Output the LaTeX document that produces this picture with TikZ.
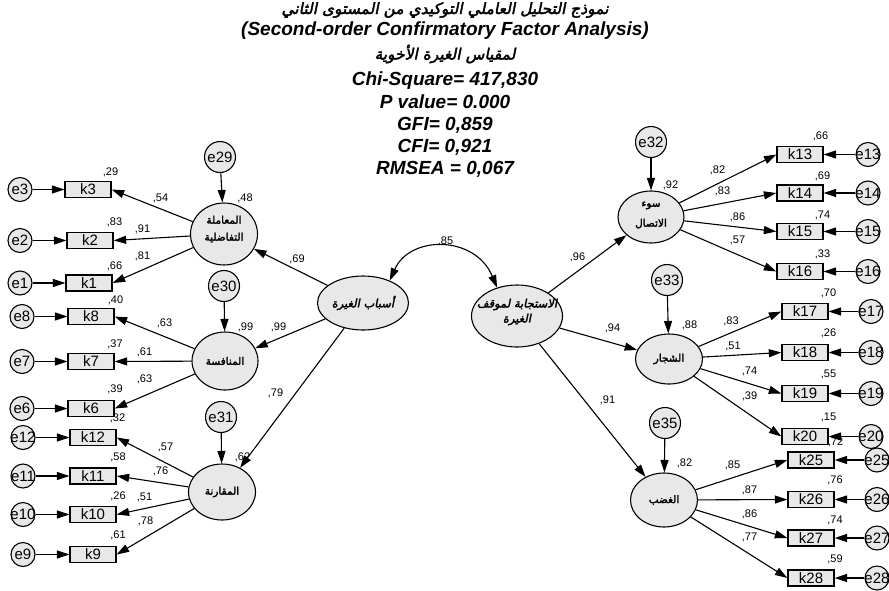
\documentclass[tikz,border=0pt]{standalone}
\usepackage{fontspec}
\setmainfont{Liberation Sans}
\newfontfamily\arabicfont[Script=Arabic,FakeBold=2.5,FakeSlant=0.2]{DejaVu Sans}
\newfontfamily\arabicup[Script=Arabic,FakeBold=2.2]{DejaVu Sans}
\TeXXeTstate=1
\usetikzlibrary{shapes.geometric,arrows.meta}
\newcommand\mkz[1]{\makebox[0pt]{#1}}
\begin{document}
\begin{tikzpicture}[x=1pt,y=-1pt,line width=1.1pt,
  arr/.style={-{Triangle[length=12.5pt,width=8pt]}},
  darr/.style={{Triangle[length=12.5pt,width=8pt]}-{Triangle[length=12.5pt,width=8pt]}},
  obs/.style={draw,rectangle,fill=black!9,minimum width=46pt,minimum height=16pt,inner sep=0pt,line width=1.3pt,font=\fontsize{15}{15}\selectfont},
  err/.style={draw,circle,fill=black!9,minimum size=24pt,inner sep=0pt,font=\fontsize{15}{15}\selectfont},
  res/.style={draw,circle,fill=black!9,minimum size=31pt,inner sep=0pt,font=\fontsize{15}{15}\selectfont},
  fac/.style={draw,ellipse,fill=black!9,inner sep=0pt},
  ftxt/.style={inner sep=0pt,align=center,font={\arabicup\fontsize{10.5}{17}\selectfont}},
  gtxt/.style={inner sep=0pt,align=center,font={\arabicfont\fontsize{11.5}{15}\selectfont}},
  lab/.style={inner sep=0pt,font=\fontsize{11}{11}\selectfont},
  ttl/.style={inner sep=0pt,font={\bfseries\itshape\fontsize{19}{19}\selectfont}},
  attl/.style={inner sep=0pt,font={\arabicfont\fontsize{15.5}{16}\selectfont}}]
\useasboundingbox (0,0) rectangle (889,590);

% titles
\node[attl] (t1) at (445,10) {\beginR نموذج التحليل العاملي التوكيدي من المستوى الثاني\endR};
\node[ttl] (t2) at (445,31) {(Second-order Confirmatory Factor Analysis)};
\node[attl] (t3) at (445,54) {\beginR لمقياس الغيرة الأخوية\endR};
\node[ttl] (t4) at (445,81) {Chi-Square= 417,830};
\node[ttl] (t5) at (445,102) {P value= 0.000};
\node[ttl] (t6) at (445,125) {GFI= 0,859};
\node[ttl] (t7) at (445,147) {CFI= 0,921};
\node[ttl] (t8) at (445,169) {RMSEA = 0,067};

% second-order factors
\node[fac,minimum width=91pt,minimum height=54pt] (G1) at (363,303) {};
\node[gtxt] (G1t) at (363,303) {\beginR أسباب الغيرة\endR};
\node[fac,minimum width=91pt,minimum height=62pt] (G2) at (517,316) {};
\node[gtxt] (G2t) at (517,312) {\beginR الاستجابة لموقف\endR\\\beginR الغيرة\endR};

% first-order factors left
\node[fac,minimum width=67pt,minimum height=62pt] (F1) at (224,234) {};
\node[ftxt] (F1t) at (224,229) {\beginR المعاملة\endR\\\beginR التفاضلية\endR};
\node[fac,minimum width=66pt,minimum height=58pt] (F2) at (225,361) {};
\node[ftxt] (F2t) at (225,361) {\beginR المنافسة\endR};
\node[fac,minimum width=67pt,minimum height=56pt] (F3) at (222,492) {};
\node[ftxt] (F3t) at (222,492) {\beginR المقارنة\endR};
% first-order factors right
\node[fac,minimum width=66pt,minimum height=52pt] (F4) at (651,217) {};
\node[ftxt,font={\arabicup\fontsize{10.5}{20}\selectfont}] (F4t) at (651,215) {\beginR سوء\endR\\\beginR الاتصال\endR};
\node[fac,minimum width=67pt,minimum height=50pt] (F5) at (669,359) {};
\node[ftxt] (F5t) at (669,359) {\beginR الشجار\endR};
\node[fac,minimum width=67pt,minimum height=54pt] (F6) at (664,500) {};
\node[ftxt] (F6t) at (664,500) {\beginR الغضب\endR};

% residuals
\node[res] (e29) at (220,157) {e29};
\node[res] (e30) at (224,286) {e30};
\node[res] (e31) at (221,417) {e31};
\node[res] (e32) at (651,142) {e32};
\node[res] (e33) at (667,280) {e33};
\node[res] (e35) at (665,423) {e35};

% observed left
\node[obs] (k3) at (88,189.5) {k3};
\node[obs] (k2) at (90,240.5) {k2};
\node[obs] (k1) at (89,283) {k1};
\node[obs] (k8) at (91,316.5) {k8};
\node[obs] (k7) at (91,361.5) {k7};
\node[obs] (k6) at (91,408.5) {k6};
\node[obs] (k12) at (93,437.5) {k12};
\node[obs] (k11) at (93,476) {k11};
\node[obs] (k10) at (93,514.5) {k10};
\node[obs] (k9) at (93,554.5) {k9};
% observed right
\node[obs] (k13) at (800,154.5) {k13};
\node[obs] (k14) at (800,193) {k14};
\node[obs] (k15) at (800,231.5) {k15};
\node[obs] (k16) at (800,271.5) {k16};
\node[obs] (k17) at (805,311.5) {k17};
\node[obs] (k18) at (805,352.5) {k18};
\node[obs] (k19) at (805,393.5) {k19};
\node[obs] (k20) at (805,436.5) {k20};
\node[obs] (k25) at (811,460) {k25};
\node[obs] (k26) at (811,499.5) {k26};
\node[obs] (k27) at (811,538) {k27};
\node[obs] (k28) at (811,578) {k28};

% errors left
\node[err] (e3) at (20,189.5) {\mkz{e3}};
\node[err] (e2) at (20,240.5) {\mkz{e2}};
\node[err] (e1) at (20,283) {\mkz{e1}};
\node[err] (e8) at (22,316.5) {\mkz{e8}};
\node[err] (e7) at (22,361.5) {\mkz{e7}};
\node[err] (e6) at (22,408.5) {\mkz{e6}};
\node[err] (e12) at (23,437.5) {\mkz{e12}};
\node[err] (e11) at (23,476) {\mkz{e11}};
\node[err] (e10) at (23,514.5) {\mkz{e10}};
\node[err] (e9) at (23,554.5) {\mkz{e9}};
% errors right
\node[err] (e13) at (868,154.5) {\mkz{e13}};
\node[err] (e14) at (868,193) {\mkz{e14}};
\node[err] (e15) at (868,231.5) {\mkz{e15}};
\node[err] (e16) at (868,271.5) {\mkz{e16}};
\node[err] (e17) at (871,311.5) {\mkz{e17}};
\node[err] (e18) at (871,352.5) {\mkz{e18}};
\node[err] (e19) at (871,393.5) {\mkz{e19}};
\node[err] (e20) at (871,436.5) {\mkz{e20}};
\node[err] (e25) at (877,460) {\mkz{e25}};
\node[err] (e26) at (877,499.5) {\mkz{e26}};
\node[err] (e27) at (877,538) {\mkz{e27}};
\node[err] (e28) at (877,578) {\mkz{e28}};

% connectors: errors to indicators
\foreach \e/\k in {e3/k3,e2/k2,e1/k1,e8/k8,e7/k7,e6/k6,e12/k12,e11/k11,e10/k10,e9/k9,
  e13/k13,e14/k14,e15/k15,e16/k16,e17/k17,e18/k18,e19/k19,e20/k20,e25/k25,e26/k26,e27/k27,e28/k28}
  \draw[arr] (\e) -- (\k);
% factors to indicators
\foreach \k in {k3,k2,k1} \draw[arr] (F1) -- (\k.east);
\foreach \k in {k8,k7,k6} \draw[arr] (F2) -- (\k.east);
\foreach \k in {k12,k11,k10,k9} \draw[arr] (F3) -- (\k.east);
\foreach \k in {k13,k14,k15,k16} \draw[arr] (F4) -- (\k.west);
\foreach \k in {k17,k18,k19,k20} \draw[arr] (F5) -- (\k.west);
\foreach \k in {k25,k26,k27,k28} \draw[arr] (F6) -- (\k.west);
% residuals
\draw[arr] (e29) -- (F1);
\draw[arr] (e30) -- (F2);
\draw[arr] (e31) -- (F3);
\draw[arr] (e32) -- (F4);
\draw[arr] (e33) -- (F5);
\draw[arr] (e35) -- (F6);
% second order
\draw[arr] (G1) -- (F1);
\draw[arr] (G1) -- (F2);
\draw[arr] (G1) -- (F3);
\draw[arr] (G2) -- (F4);
\draw[arr] (G2) -- (F5);
\draw[arr] (G2) -- (F6);
\draw[darr] (G1.40) .. controls (410,235) and (475,235) .. (G2.125);

% labels
\foreach \lbl/\x/\y in {
 29/110.5/172.5, 54/160.5/198, 48/245/198, 83/114.5/222, 91/142.5/229,
 81/142.5/256, 66/114.5/266, 69/297/259, 40/115.5/300, 63/164.5/323.5,
 99/245.5/327, 99/278.5/327, 37/115/344.5, 61/144.5/352.5, 63/144.5/379,
 39/115/389.5, 79/275.5/393, 32/117.5/418.5, 57/165.5/447, 58/118/457.5,
 76/160.5/471, 26/118/496, 51/144.5/497.5, 78/145.5/521.5, 61/118/535.5,
 62/242.5/457.5, 85/445.5/241, 96/577.5/257.5,
 66/820.5/136, 82/717.5/170, 92/670.5/185, 69/822.5/176, 83/722.5/191.5,
 86/737.5/217, 74/822.5/215, 57/737.5/240, 33/822.5/254.5,
 94/612.5/328.5, 88/689.5/325.5, 83/731/321.5, 70/828.5/293.5, 51/733/346.5,
 26/828.5/333.5, 74/749.5/371.5, 55/828.5/374.5, 39/749.5/396, 91/607.5/400.5,
 15/828.5/417.5, 72/835.5/442.5, 82/684.5/463, 85/732.5/465, 87/749.5/490,
 76/835/480, 86/749.5/514, 74/835/520, 77/749.5/537, 59/835/559.5}
 \node[lab] at (\x,\y) {,\lbl};
\end{tikzpicture}
\end{document}
